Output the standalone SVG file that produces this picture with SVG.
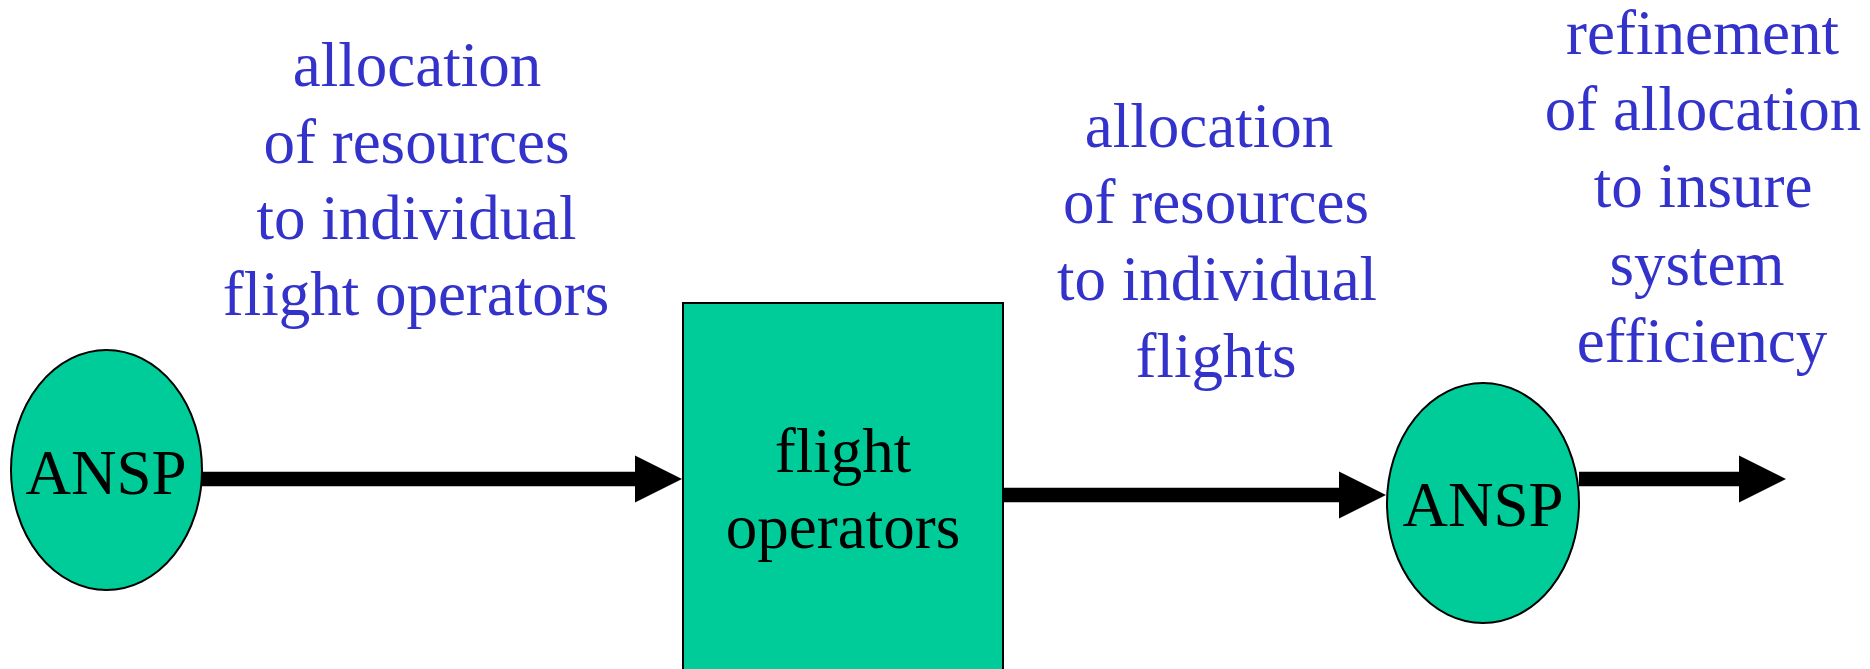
<svg xmlns="http://www.w3.org/2000/svg" width="1870" height="669" viewBox="0 0 1870 669">
<style>
.node{fill:#00cc99;stroke:#000;stroke-width:2}
.nt{font-family:"Liberation Serif","Times New Roman",serif;font-size:63px;fill:#000;text-anchor:middle}
.lbl{font-family:"Liberation Serif","Times New Roman",serif;font-size:63px;fill:#3333cc;text-anchor:middle}
.conn{stroke:#000;stroke-width:14.5;fill:none}
</style>
<defs>
<marker id="ah" markerUnits="userSpaceOnUse" markerWidth="48" markerHeight="48" refX="1" refY="23.5" orient="auto" overflow="visible">
<path d="M0,0 L47,23.5 L0,47 Z" fill="#000"/>
</marker>
</defs>
<g id="connectors">
<line class="conn" x1="202" y1="479" x2="636" y2="479" marker-end="url(#ah)"/>
<line class="conn" x1="1003" y1="495" x2="1340" y2="495" marker-end="url(#ah)"/>
<line class="conn" x1="1579" y1="479" x2="1740" y2="479" marker-end="url(#ah)"/>
</g>
<g id="ansp1">
<ellipse class="node" cx="106.5" cy="470" rx="95.5" ry="120"/>
<text class="nt" x="106" y="494">ANSP</text>
</g>
<g id="flight-operators">
<rect class="node" x="683" y="303" width="320" height="380"/>
<text class="nt" x="843" y="472">flight</text>
<text class="nt" x="843" y="548">operators</text>
</g>
<g id="ansp2">
<ellipse class="node" cx="1483" cy="503" rx="96" ry="120"/>
<text class="nt" x="1483" y="526">ANSP</text>
</g>
<g id="label1">
<text class="lbl" x="417" y="86">allocation</text>
<text class="lbl" x="416.5" y="163">of resources</text>
<text class="lbl" x="416.5" y="239">to individual</text>
<text class="lbl" x="416" y="315">flight operators</text>
</g>
<g id="label2">
<text class="lbl" x="1209" y="147">allocation</text>
<text class="lbl" x="1216" y="223">of resources</text>
<text class="lbl" x="1217" y="300">to individual</text>
<text class="lbl" x="1216" y="377">flights</text>
</g>
<g id="label3">
<text class="lbl" x="1702.5" y="54">refinement</text>
<text class="lbl" x="1703" y="130">of allocation</text>
<text class="lbl" x="1703" y="207">to insure</text>
<text class="lbl" x="1697" y="285">system</text>
<text class="lbl" x="1702" y="362">efficiency</text>
</g>
</svg>
